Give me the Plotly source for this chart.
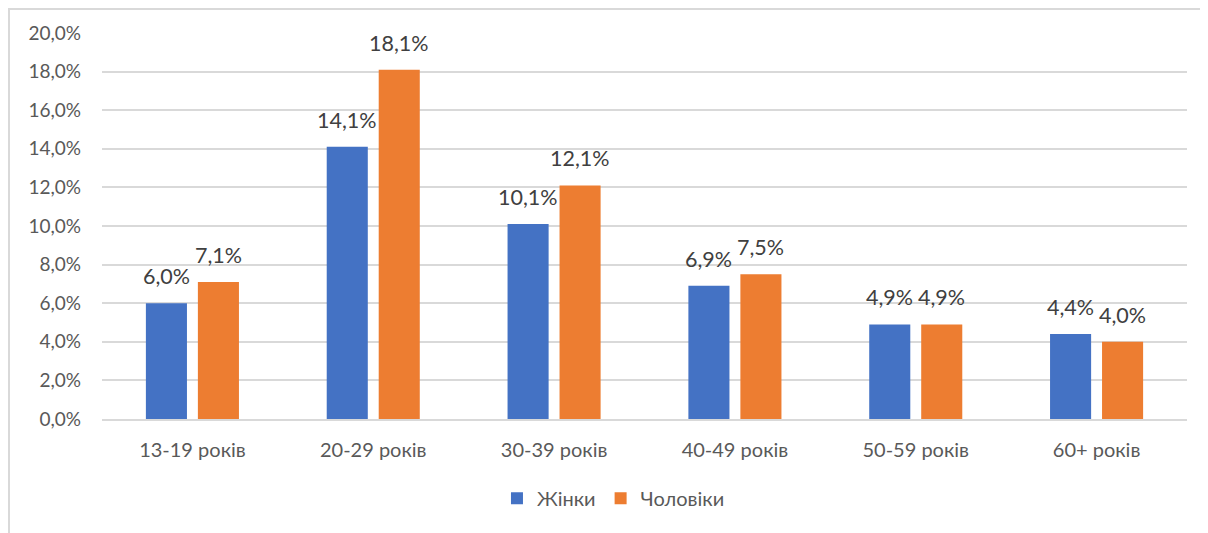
import plotly.graph_objects as go

categories = ["13-19 років", "20-29 років", "30-39 років", "40-49 років", "50-59 років", "60+ років"]
women = [0.060, 0.141, 0.101, 0.069, 0.049, 0.044]
men = [0.071, 0.181, 0.121, 0.075, 0.049, 0.040]
series_names = ["Жінки", "Чоловіки"]
tick_vals = [0.0, 0.02, 0.04, 0.06, 0.08, 0.10, 0.12, 0.14, 0.16, 0.18, 0.20]

FONT = "Lato, Noto Sans, sans-serif"
GRAY = "#595959"

W, H = 1200, 525
ML, MR, MT, MB = 94, 21, 25, 114
BARGAP, GROUPGAP = 0.425, 0.21
plot_w = W - ML - MR
slot = plot_w / len(categories) * (1 - BARGAP) / 2

fig = go.Figure()
colors = ["#4472C4", "#ED7D31"]
for i, (vals, name) in enumerate([(women, series_names[0]), (men, series_names[1])]):
    fig.add_trace(go.Bar(x=categories, y=vals, name=name, marker_color=colors[i],
                         marker_line_width=0, cliponaxis=False))
    shift = (i - 0.5) * slot
    for c, v in zip(categories, vals):
        fig.add_annotation(x=c, y=v, text=f"{v*100:.1f}%".replace(".", ","),
                           xref="x", yref="y", showarrow=False, xanchor="center",
                           yanchor="bottom", xshift=shift, yshift=12,
                           font=dict(size=21.5, color="#404040", family=FONT))

fig.update_layout(
    width=W, height=H,
    margin=dict(l=ML, r=MR, t=MT, b=MB, autoexpand=False),
    paper_bgcolor="white", plot_bgcolor="white",
    separators=", ",
    barmode="group", bargap=BARGAP, bargroupgap=GROUPGAP,
    font=dict(family=FONT, size=18, color=GRAY),
    showlegend=True,
    legend=dict(orientation="h", x=0.4714, xanchor="center", y=-0.205, yanchor="middle",
                font=dict(size=20, color=GRAY), itemwidth=30, traceorder="normal"),
    yaxis=dict(range=[0, 0.20], tickvals=tick_vals, tickformat=".1%", showgrid=True,
               gridcolor="#D9D9D9", gridwidth=1.5, zeroline=False, showline=False,
               ticks="", ticklabelstandoff=20, automargin=False,
               tickfont=dict(size=19, color=GRAY)),
    xaxis=dict(showline=True, linecolor="#D9D9D9", linewidth=1.5, ticks="", automargin=False,
               tickfont=dict(size=20, color=GRAY), ticklabelstandoff=12),
)
plot_h = H - MT - MB
fig.add_shape(type="rect", xref="paper", yref="paper",
              x0=-(ML - 1) / plot_w, x1=1 + (MR + 20) / plot_w,
              y0=-(MB + 20) / plot_h, y1=1 + (MT - 1) / plot_h,
              line=dict(color="#D9D9D9", width=2), fillcolor="rgba(0,0,0,0)", layer="below")

fig.write_html("out.html")
